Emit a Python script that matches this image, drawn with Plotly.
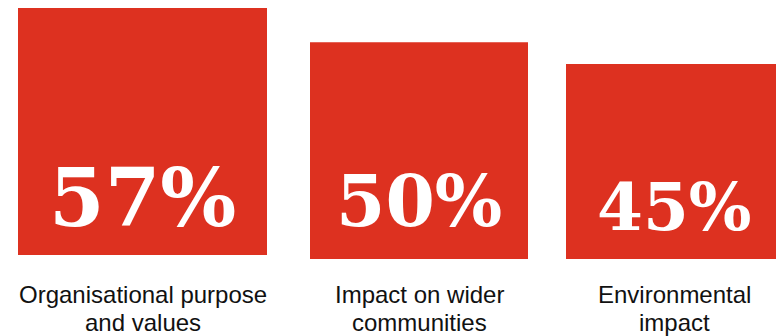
import plotly.graph_objects as go

# Survey results
categories = [["Organisational purpose", "and values"],
              ["Impact on wider", "communities"],
              ["Environmental", "impact"]]
values = [57, 50, 45]

# Layout / style settings (pixels on a 776 x 336 canvas)
W, H = 776, 336
PLOT_H = 259                 # height of the plotting band above the labels
PX_PER_PT = 4.333            # vertical pixels per percentage point
centers = [142.5, 419, 674]  # horizontal centre of each block
widths = [249, 218, 216]     # block widths
lift_px = [4, 0, 0]          # small raise of the first block
value_font = [80, 71, 66]
value_shift = [61, 58, 52]
label_shift = [-21, -49]     # first and second label line
RED = "#dd3120"

base = [p / PX_PER_PT for p in lift_px]

fig = go.Figure(
    go.Bar(
        x=centers,
        y=values,
        base=base,
        width=widths,
        marker=dict(color=RED, line=dict(width=0)),
        hoverinfo="skip",
    )
)

# Big percentage figures inside the blocks
for c, v, fs, sh in zip(centers, values, value_font, value_shift):
    fig.add_annotation(
        x=c, y=0, xref="x", yref="y",
        text=f"<b>{v}%</b>", showarrow=False,
        yanchor="middle", xanchor="center", yshift=sh,
        font=dict(family="DejaVu Serif", size=fs, color="white"),
    )

# Category labels beneath the blocks, one annotation per line
for c, lines in zip(centers, categories):
    for line, sh in zip(lines, label_shift):
        fig.add_annotation(
            x=c, y=0, xref="x", yref="paper",
            text=line, showarrow=False, borderpad=0,
            yanchor="top", xanchor="center", yshift=sh,
            font=dict(family="Liberation Sans, Arial", size=24, color="#111111"),
        )

fig.update_layout(
    width=W, height=H,
    margin=dict(l=0, r=0, t=0, b=H - PLOT_H, pad=0),
    paper_bgcolor="white", plot_bgcolor="white",
    showlegend=False,
    xaxis=dict(range=[0, W], visible=False, fixedrange=True),
    yaxis=dict(range=[0, PLOT_H / PX_PER_PT], visible=False, fixedrange=True),
)

fig.write_html("out.html", config={"displayModeBar": False})
